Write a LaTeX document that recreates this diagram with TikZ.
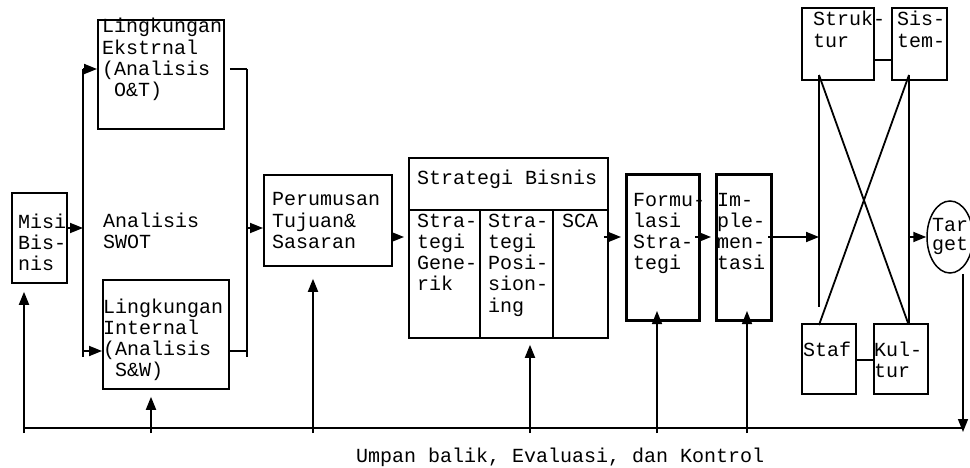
\documentclass[tikz,border=0pt]{standalone}
\usepackage{fontspec}
\newfontfamily\cour{Liberation Mono}
\usetikzlibrary{arrows.meta,shapes.geometric,calc}
\begin{document}
\begin{tikzpicture}[x=1pt,y=-1pt,
  box/.style={draw, line width=1.8pt, rectangle, inner sep=0pt, anchor=north west},
  tbox/.style={box, line width=3pt},
  sbox/.style={box, line width=1.6pt},
  txt/.style={anchor=base west, inner sep=0pt, align=left, font=\cour\fontsize{20pt}{21.3pt}\selectfont},
  arr/.style={-{Triangle[length=13pt,width=10pt]}, line width=1.8pt},
  tarr/.style={-{Triangle[length=13pt,width=10pt]}, line width=1.5pt},
  ln/.style={line width=1.8pt},
  fb/.style={line width=2.6pt}]
\useasboundingbox (0,0) rectangle (970,468);

% boxes
\node[box, minimum width=55pt, minimum height=90pt] (misi) at (11,192) {};
\node[box, minimum width=126pt, minimum height=109pt] (ext) at (97,19) {};
\node[box, minimum width=126pt, minimum height=109pt] (int) at (102,279) {};
\node[box, minimum width=128pt, minimum height=91pt] (tujuan) at (263,174) {};
\node[box, minimum width=199pt, minimum height=180pt] (bisnis) at (408,157) {};
\node[tbox, minimum width=73pt, minimum height=146pt] (formulasi) at (625,173) {};
\node[tbox, minimum width=55pt, minimum height=146pt] (impl) at (715,173) {};
\node[sbox, minimum width=72pt, minimum height=72pt] (struktur) at (801,7) {};
\node[sbox, minimum width=55pt, minimum height=72pt] (sistem) at (891,7) {};
\node[sbox, minimum width=54pt, minimum height=70pt] (staf) at (801,323) {};
\node[sbox, minimum width=54pt, minimum height=70pt] (kultur) at (873,323) {};
\node[draw, ellipse, line width=1.5pt, minimum width=46pt, minimum height=72pt, inner sep=0pt] (target) at (950,237) {};

% inner dividers of Strategi Bisnis
\coordinate (hdiv) at (0,210);
\draw[ln] (bisnis.west |- hdiv) -- (bisnis.east |- hdiv);
\draw[ln] ($(bisnis.south west)+(72,0)$) -- ($(bisnis.south west |- hdiv)+(72,0)$);
\draw[ln] ($(bisnis.south west)+(145,0)$) -- ($(bisnis.south west |- hdiv)+(145,0)$);

% texts (anchored at the baseline of the last line)
\node[txt] (t-misi) at (18,270.6) {Misi\\Bis-\\nis};
\node[txt] (t-ext) at (102,96.9) {Lingkungan\\Ekstrnal\\(Analisis\\~O\&T)};
\node[txt] (t-swot) at (103,248.3) {Analisis\\SWOT};
\node[txt] (t-int) at (103,376.9) {Lingkungan\\Internal\\(Analisis\\~S\&W)};
\node[txt] (t-tujuan) at (272,248.6) {Perumusan\\Tujuan\&\\Sasaran};
\node[txt] (t-bisnis) at (417,185) {Strategi Bisnis};
\node[txt] (t-gen) at (417,290.9) {Stra-\\tegi\\Gene-\\rik};
\node[txt] (t-pos) at (488,312.2) {Stra-\\tegi\\Posi-\\sion-\\ing};
\node[txt] (t-sca) at (562,227) {SCA};
\node[txt] (t-form) at (633,269.9) {Formu-\\lasi\\Stra-\\tegi};
\node[txt] (t-impl) at (717,269.9) {Im-\\ple-\\men-\\tasi};
\node[txt] (t-struk) at (813,47.3) {Struk-\\tur};
\node[txt] (t-sis) at (897,47.3) {Sis-\\tem-};
\node[txt] (t-staf) at (803,356) {Staf};
\node[txt] (t-kul) at (874,377.3) {Kul-\\tur};
\node[txt, font=\cour\fontsize{20pt}{18.5pt}\selectfont] (t-target) at (932,250.5) {Tar\\get};
\node[txt] (t-fb) at (356,462) {Umpan balik, Evaluasi, dan Kontrol};

% SWOT bars
\coordinate (Ltop) at (83,69);
\coordinate (Lbot) at (83,357);
\coordinate (Rtop) at (247,69);
\coordinate (Rbot) at (247,357);
\coordinate (rowS) at (0,228);
\coordinate (rowI) at (0,351);
\coordinate (rowM) at (0,237);
\draw[ln] (Ltop) -- (Lbot);
\draw[ln] (Rtop) -- (Rbot);
\draw[arr] (misi.east |- rowS) -- (Ltop |- rowS);
\draw[arr] (Ltop) -- (ext.west |- Ltop);
\draw[arr] (Lbot |- rowI) -- (int.west |- rowI);
\draw[ln] ($(ext.east |- Rtop)+(5,0)$) -- (Rtop);
\draw[ln] (int.east |- rowI) -- (Rbot |- rowI);
\draw[arr] (Rtop |- rowS) -- (tujuan.west |- rowS);

% main flow
\draw[arr] (tujuan.east |- rowM) -- ($(bisnis.west |- rowM)+(-4,0)$);
\draw[arr] ($(bisnis.east |- rowM)+(-5,0)$) -- ($(formulasi.west |- rowM)+(-4,0)$);
\draw[arr] ($(formulasi.east |- rowM)+(-6,0)$) -- ($(impl.west |- rowM)+(-4,0)$);

% 7S frame
\coordinate (mL1) at (819,75);
\coordinate (mL2) at (819,307);
\coordinate (mR1) at (909,75);
\coordinate (mR2) at (909,325);
\coordinate (mL3) at (819,325);
\coordinate (mR3) at (908,323);
\draw[ln] (mL1) -- (mL2);
\draw[line width=2.3pt] (mR1) -- (mR2);
\draw[ln] (mL1) -- (mR3);
\draw[ln] (mR1) -- (mL3);
\draw[ln] (struktur.east |- 0,60) -- (sistem.west |- 0,60);
\draw[ln] (staf.east |- 0,360) -- (kultur.west |- 0,360);
\draw[arr] ($(impl.east |- rowM)+(-5,0)$) -- (mL1 |- rowM);
\draw[arr] (mR1 |- rowM) -- (target.west);

% feedback
\coordinate (fbStart) at (24,428);
\coordinate (fbEnd) at (963,428);
\coordinate (fbTip) at (963,432);
\draw[fb] (fbStart) -- (fbEnd);
\draw[tarr] (target.south -| fbTip) -- (fbTip);
\coordinate (f1) at (24,433);
\coordinate (f2) at (151,433);
\coordinate (f3) at (313,433);
\coordinate (f4) at (530,433);
\coordinate (f5) at (657,433);
\coordinate (f6) at (747,433);
\draw[arr] (f1) -- ($(f1 |- misi.south)+(0,8)$);
\draw[arr] (f2) -- ($(f2 |- int.south)+(0,7)$);
\draw[arr] (f3) -- ($(f3 |- tujuan.south)+(0,12)$);
\draw[arr] (f4) -- ($(f4 |- bisnis.south)+(0,6)$);
\draw[tarr] (f5) -- ($(f5 |- formulasi.south)+(0,-11)$);
\draw[tarr] (f6) -- ($(f6 |- impl.south)+(0,-11)$);
\end{tikzpicture}
\end{document}
